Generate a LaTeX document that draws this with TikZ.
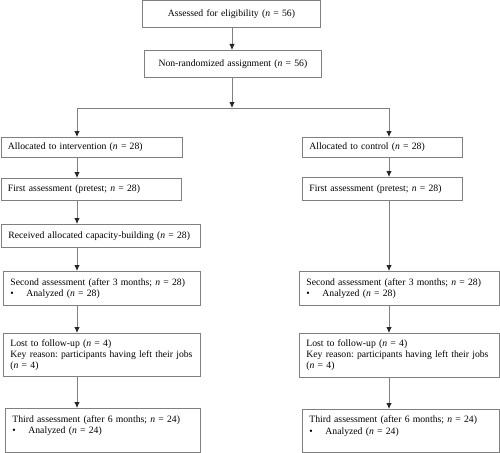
\documentclass[tikz,border=0pt]{standalone}
\usepackage{fontspec}
\setmainfont{Liberation Serif}
\usetikzlibrary{arrows.meta}
\frenchspacing

\begin{document}
\begin{tikzpicture}[x=1pt,y=-1pt,font=\fontsize{9.7}{11.2}\selectfont,
box/.style={draw=black!50,line width=.8pt,anchor=north west,inner xsep=7pt,inner ysep=0pt,align=left},
mid/.style={box,align=center},
arr/.style={draw=black!50,line width=.8pt,-{Latex[length=6pt,width=5.5pt,black!85]}}]
\useasboundingbox (0,0) rectangle (500,452);
\node[mid,text width=164pt,minimum height=27pt] (elig) at (142,.5) {Assessed for eligibility (\textit{n} = 56)};
\node[mid,text width=163pt,minimum height=27pt] (nonrand) at (144,50) {Non-randomized assignment (\textit{n} = 56)};
\coordinate (split) at (232,108);
\coordinate (splitL) at (77,108);
\coordinate (splitR) at (389,108);
\node[box,text width=167pt,minimum height=19.5pt] (alloc1) at (.5,137) {Allocated to intervention (\textit{n} = 28)};
\node[box,text width=166pt,minimum height=22pt] (pre1) at (.5,178) {First assessment (pretest; \textit{n} = 28)};
\node[box,text width=185pt,minimum height=23pt] (recv) at (1,224) {Received allocated capacity-building (\textit{n} = 28)};
\node[box,text width=183pt,minimum height=34pt] (sec1) at (3,271) {Second assessment (after 3 months; \textit{n} = 28)\\\makebox[16pt][l]{\textbullet}Analyzed (\textit{n} = 28)};
\node[box,text width=183pt,minimum height=43pt] (lost1) at (3,333) {Lost to follow-up (\textit{n} = 4)\\Key reason: participants having left their jobs\\(\textit{n} = 4)};
\node[box,text width=181pt,minimum height=43.5pt] (third1) at (5,408) {Third assessment (after 6 months; \textit{n} = 24)\\\makebox[16pt][l]{\textbullet}Analyzed (\textit{n} = 24)\\\mbox{}};
\node[box,text width=146pt,minimum height=20pt] (alloc2) at (302,137) {Allocated to control (\textit{n} = 28)};
\node[box,text width=146pt,minimum height=23pt] (pre2) at (302,177) {First assessment (pretest; \textit{n} = 28)};
\node[box,text width=186pt,minimum height=34pt] (sec2) at (299,271) {Second assessment (after 3 months; \textit{n} = 28)\\\makebox[16pt][l]{\textbullet}Analyzed (\textit{n} = 28)};
\node[box,text width=186pt,minimum height=44pt] (lost2) at (299,333) {Lost to follow-up (\textit{n} = 4)\\Key reason: participants having left their jobs\\(\textit{n} = 4)};
\node[box,text width=183pt,minimum height=42.5pt] (third2) at (302,409) {Third assessment (after 6 months; \textit{n} = 24)\\\makebox[16pt][l]{\textbullet}Analyzed (\textit{n} = 24)\\\mbox{}};
\draw[arr] (elig.south -| split) -- (nonrand.north -| split);
\draw[arr] (nonrand.south -| split) -- (split);
\draw[draw=black!50,line width=.8pt] (splitL) -- (splitR);
\draw[arr] (splitL) -- (alloc1.north -| splitL);
\draw[arr] (splitR) -- (alloc2.north -| splitR);
\foreach \a/\b in {alloc1/pre1,pre1/recv,recv/sec1,sec1/lost1,lost1/third1}
\draw[arr] (\a.south -| splitL) -- (\b.north -| splitL);
\foreach \a/\b in {alloc2/pre2,pre2/sec2,sec2/lost2,lost2/third2}
\draw[arr] (\a.south -| splitR) -- (\b.north -| splitR);
\end{tikzpicture}
\end{document}
